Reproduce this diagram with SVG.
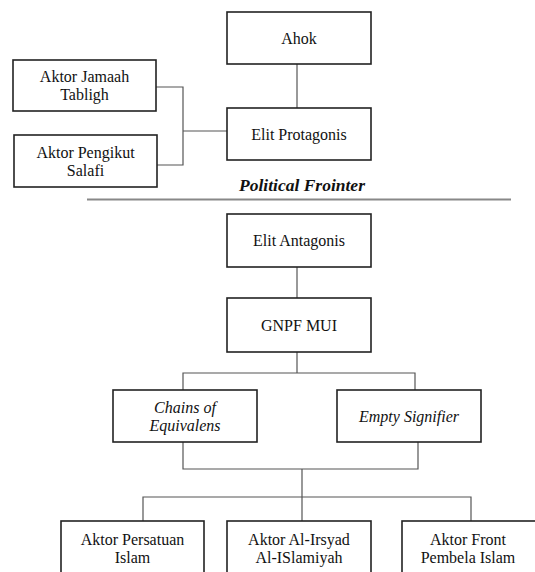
<svg xmlns="http://www.w3.org/2000/svg" width="535" height="572" viewBox="0 0 535 572">
<style>
.box{fill:#fff;stroke:#222;stroke-width:1.6}
.t{font-family:'Liberation Serif',Tinos,'Times New Roman','DejaVu Serif',serif;font-size:16px;fill:#111;text-anchor:middle}
.i{font-style:italic}
.b{font-weight:bold;font-size:17.5px}
.c{fill:none;stroke:#555;stroke-width:1.2}
</style>
<rect width="535" height="572" fill="#fff"/>
<g id="connectors">
<path class="c" d="M297 64V108"/>
<path class="c" d="M156 87H183V165H157M183 131H227"/>
<path class="c" d="M297 267V298"/>
<path class="c" d="M297 352V373M183 390V373H415V390"/>
<path class="c" d="M183 442V469H418V442M302 469V521"/>
<path class="c" d="M143 521V497H471V521"/>
</g>
<g id="ahok"><rect class="box" x="227" y="12" width="144" height="52"/><text class="t" x="299" y="44">Ahok</text></g>
<g id="elit-protagonis"><rect class="box" x="227" y="108" width="144" height="52"/><text class="t" x="299" y="140">Elit Protagonis</text></g>
<g id="jamaah-tabligh"><rect class="box" x="13" y="60" width="143" height="51"/><text class="t" x="84.5" y="82">Aktor Jamaah</text><text class="t" x="84.5" y="100">Tabligh</text></g>
<g id="pengikut-salafi"><rect class="box" x="14" y="135" width="143" height="52"/><text class="t" x="85.5" y="158">Aktor Pengikut</text><text class="t" x="85.5" y="176">Salafi</text></g>
<g id="frontier"><text class="t i b" x="302" y="191">Political Frointer</text><line x1="87" y1="199.5" x2="511" y2="199.5" stroke="#888" stroke-width="1.8"/></g>
<g id="elit-antagonis"><rect class="box" x="227" y="214" width="144" height="53"/><text class="t" x="299" y="246">Elit Antagonis</text></g>
<g id="gnpf-mui"><rect class="box" x="227" y="298" width="144" height="54"/><text class="t" x="299" y="331">GNPF MUI</text></g>
<g id="chains"><rect class="box" x="113" y="390" width="144" height="52"/><text class="t i" x="185" y="413">Chains of</text><text class="t i" x="185" y="431">Equivalens</text></g>
<g id="empty-signifier"><rect class="box" x="337" y="390" width="144" height="52"/><text class="t i" x="409" y="422">Empty Signifier</text></g>
<g id="persatuan-islam"><rect class="box" x="61" y="521" width="143" height="60"/><text class="t" x="132.5" y="545">Aktor Persatuan</text><text class="t" x="132.5" y="563">Islam</text></g>
<g id="al-irsyad"><rect class="box" x="227" y="521" width="144" height="60"/><text class="t" x="299" y="545">Aktor Al-Irsyad</text><text class="t" x="299" y="563">Al-ISlamiyah</text></g>
<g id="front-pembela"><rect class="box" x="402" y="521" width="144" height="60"/><text class="t" x="468" y="545">Aktor Front</text><text class="t" x="468" y="563">Pembela Islam</text></g>
</svg>
